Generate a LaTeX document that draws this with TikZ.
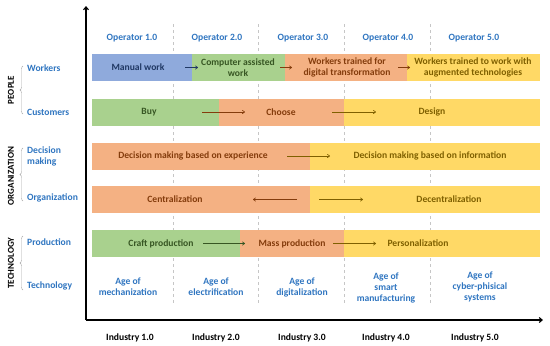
\documentclass[tikz,border=0pt]{standalone}
\usepackage{fontspec}
\setmainfont{Carlito}
\usetikzlibrary{arrows.meta,decorations.pathreplacing}
\definecolor{lblue}{HTML}{2F75C0}
\definecolor{fblue}{HTML}{8FAADC}
\definecolor{fgreen}{HTML}{A9D18E}
\definecolor{fsalmon}{HTML}{F4B183}
\definecolor{fyellow}{HTML}{FFD966}
\definecolor{tblue}{HTML}{203864}
\definecolor{tgreen}{HTML}{375623}
\definecolor{tsalmon}{HTML}{843C0C}
\definecolor{tyellow}{HTML}{7F6000}
\tikzset{
  seg/.style={draw=none, inner sep=0pt, minimum height=27pt, anchor=west},
  bartxt/.style={font=\fontsize{9.6}{11}\selectfont\bfseries, align=center, inner sep=0pt},
  lbl/.style={font=\fontsize{9.6}{11}\selectfont\bfseries, text=lblue, align=center, inner sep=0pt},
  side/.style={font=\fontsize{9.6}{11}\selectfont\bfseries, text=lblue, align=left, anchor=west, inner sep=0pt},
  grp/.style={font=\fontsize{9}{10}\selectfont\bfseries, rotate=90, inner sep=0pt},
  ind/.style={font=\fontsize{9.6}{11}\selectfont\bfseries, inner sep=0pt},
  arr/.style={-{To[length=3pt,width=4pt]}, line width=0.6pt},
  brc/.style={draw=gray!70, decorate, decoration={brace, amplitude=3pt}},
  sep/.style={draw=gray!45, dashed, line width=0.5pt},
  axis/.style={-{Straight Barb[length=3pt,width=5pt]}, line width=1.1pt}
}
\begin{document}
\begin{tikzpicture}[x=1pt,y=-1pt]
\useasboundingbox (0,0) rectangle (550,346);
% axes
\coordinate (o) at (86,320);
\coordinate (ytop) at (86,6);
\coordinate (xend) at (543,320);
% dashed separators
\foreach \x/\n in {173/a,258/b,344/c,430/d}{
  \coordinate (s\n t) at (\x,24);
  \coordinate (s\n b) at (\x,304);
  \draw[sep] (s\n t) -- (s\n b);
}
% operators
\node[lbl] (op1) at (132,38) {Operator 1.0};
\node[lbl] (op2) at (217,38) {Operator 2.0};
\node[lbl] (op3) at (303,38) {Operator 3.0};
\node[lbl] (op4) at (388,38) {Operator 4.0};
\node[lbl] (op5) at (474,38) {Operator 5.0};
% row 1 workers
\node[seg, fill=fblue, minimum width=100pt] (r1a) at (92,67.5) {};
\node[seg, fill=fgreen, minimum width=93pt] (r1b) at (192,67.5) {};
\node[seg, fill=fsalmon, minimum width=122pt] (r1c) at (285,67.5) {};
\node[seg, fill=fyellow, minimum width=133pt] (r1d) at (407,67.5) {};
\node[bartxt, text=tblue] (t1a) at (138,67.5) {Manual work};
\node[bartxt, text=tgreen] (t1b) at (238,67.5) {Computer assisted\\work};
\node[bartxt, text=tsalmon] (t1c) at (347,67.5) {Workers trained for\\digital transformation};
\node[bartxt, text=tyellow] (t1d) at (473,67.5) {Workers trained to work with\\augmented technologies};
\coordinate (a1s) at (185,67.5); \coordinate (a1e) at (198,67.5);
\coordinate (a2s) at (280,67.5); \coordinate (a2e) at (292,67.5);
\coordinate (a3s) at (398,67.5); \coordinate (a3e) at (410,67.5);
\draw[arr, tblue] (a1s) -- (a1e);
\draw[arr, tsalmon] (a2s) -- (a2e);
\draw[arr, tsalmon] (a3s) -- (a3e);
% row 2 customers
\node[seg, fill=fgreen, minimum width=127pt] (r2a) at (92,112) {};
\node[seg, fill=fsalmon, minimum width=125pt] (r2b) at (219,112) {};
\node[seg, fill=fyellow, minimum width=196pt] (r2c) at (344,112) {};
\node[bartxt, text=tgreen] (t2a) at (149,112) {Buy};
\node[bartxt, text=tsalmon] (t2b) at (281,112) {Choose};
\node[bartxt, text=tyellow] (t2c) at (432,112) {Design};
\coordinate (b1s) at (202,112); \coordinate (b1e) at (245,112);
\coordinate (b2s) at (332,112); \coordinate (b2e) at (376,112);
\draw[arr, tsalmon] (b1s) -- (b1e);
\draw[arr, tyellow] (b2s) -- (b2e);
% row 3 decision making
\node[seg, fill=fsalmon, minimum width=218pt] (r3a) at (92,156) {};
\node[seg, fill=fyellow, minimum width=230pt] (r3b) at (310,156) {};
\node[bartxt, text=tsalmon] (t3a) at (193,156) {Decision making based on experience};
\node[bartxt, text=tyellow] (t3b) at (430,156) {Decision making based on information};
\coordinate (c1s) at (287,156); \coordinate (c1e) at (330,156);
\draw[arr, tyellow] (c1s) -- (c1e);
% row 4 organization
\node[seg, fill=fsalmon, minimum width=218pt] (r4a) at (92,199.5) {};
\node[seg, fill=fyellow, minimum width=230pt] (r4b) at (310,199.5) {};
\node[bartxt, text=tsalmon] (t4a) at (175,199.5) {Centralization};
\node[bartxt, text=tyellow] (t4b) at (449,199.5) {Decentralization};
\coordinate (d1s) at (297,199.5); \coordinate (d1e) at (253,199.5);
\coordinate (d2s) at (319,199.5); \coordinate (d2e) at (363,199.5);
\draw[arr, tsalmon] (d1s) -- (d1e);
\draw[arr, tyellow] (d2s) -- (d2e);
% row 5 production
\node[seg, fill=fgreen, minimum width=148pt] (r5a) at (92,243.5) {};
\node[seg, fill=fsalmon, minimum width=104pt] (r5b) at (240,243.5) {};
\node[seg, fill=fyellow, minimum width=196pt] (r5c) at (344,243.5) {};
\node[bartxt, text=tgreen] (t5a) at (161,243.5) {Craft production};
\node[bartxt, text=tsalmon] (t5b) at (292,243.5) {Mass production};
\node[bartxt, text=tyellow] (t5c) at (418,243.5) {Personalization};
\coordinate (e1s) at (203,243.5); \coordinate (e1e) at (245,243.5);
\coordinate (e2s) at (333,243.5); \coordinate (e2e) at (376,243.5);
\draw[arr, tgreen] (e1s) -- (e1e);
\draw[arr, tyellow] (e2s) -- (e2e);
% row 6 technology ages
\node[lbl] (g1) at (128,287) {Age of\\mechanization};
\node[lbl] (g2) at (216,287) {Age of\\electrification};
\node[lbl] (g3) at (302,287) {Age of\\digitalization};
\node[lbl] (g4) at (386,288) {Age of\\smart\\manufacturing};
\node[lbl] (g5) at (480,287) {Age of\\cyber-phisical\\systems};
% axes drawn
\draw[axis] (o) -- (ytop);
\draw[axis] (o) -- (xend);
% industries
\node[ind] (i1) at (130,338) {Industry 1.0};
\node[ind] (i2) at (216,338) {Industry 2.0};
\node[ind] (i3) at (302,338) {Industry 3.0};
\node[ind] (i4) at (386,338) {Industry 4.0};
\node[ind] (i5) at (475,338) {Industry 5.0};
% side labels
\node[side] (sw) at (27,68) {Workers};
\node[side] (sc) at (27,112) {Customers};
\node[side] (sd) at (27,156) {Decision\\making};
\node[side] (so) at (27,198) {Organization};
\node[side] (sp) at (27,242) {Production};
\node[side] (st) at (27,286) {Technology};
\coordinate (bw) at (23,66); \coordinate (bc) at (23,114);
\coordinate (bd) at (23,148); \coordinate (bo) at (23,201);
\coordinate (bp) at (23,236); \coordinate (bt) at (23,290);
\draw[brc] (bc) -- (bw);
\draw[brc] (bo) -- (bd);
\draw[brc] (bt) -- (bp);
\node[grp] (gp) at (11,90) {PEOPLE};
\node[grp] (go) at (11,176) {ORGANIZATION};
\node[grp] (gt) at (11,263) {TECHNOLOGY};
\end{tikzpicture}
\end{document}
